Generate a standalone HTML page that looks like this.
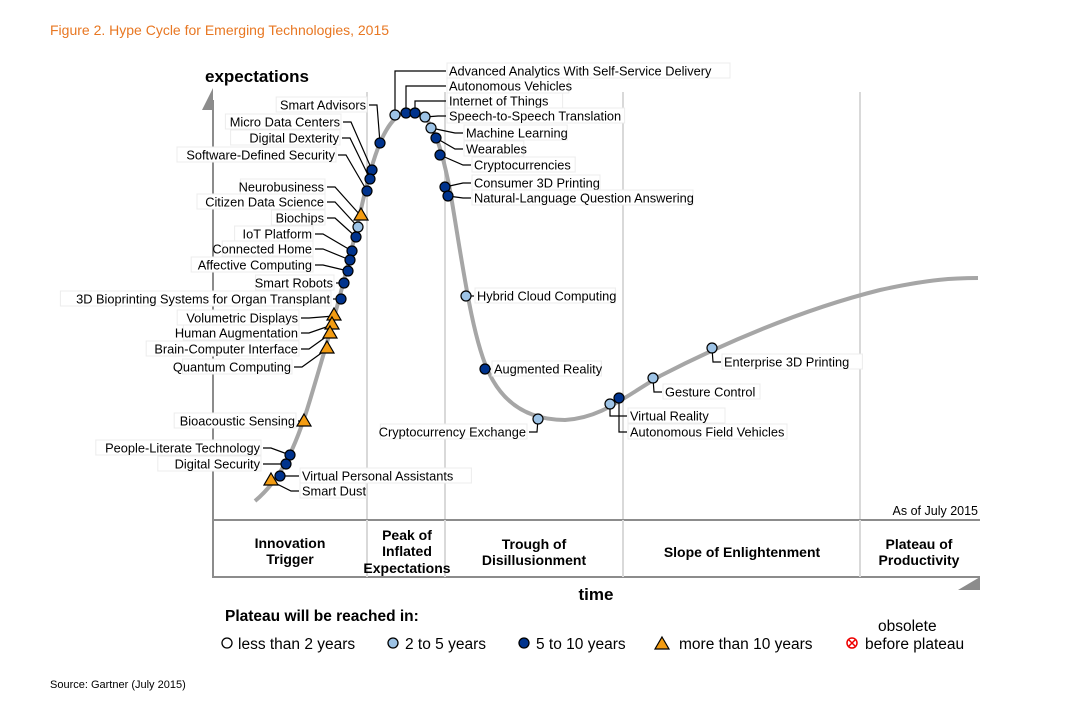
<!DOCTYPE html>
<html><head><meta charset="utf-8"><style>
body{margin:0;background:#fff;width:1072px;height:708px;overflow:hidden;font-family:"Liberation Sans",sans-serif}
svg{display:block}
text{font-family:"Liberation Sans",sans-serif}
</style></head><body>
<svg id="c" width="1072" height="708" viewBox="0 0 1072 708">
<text x="50" y="35" font-size="14" fill="#e87722">Figure 2. Hype Cycle for Emerging Technologies, 2015</text>
<g stroke="#d9d9d9" stroke-width="2">
<line x1="367" y1="92" x2="367" y2="520"/><line x1="445" y1="92" x2="445" y2="520"/>
<line x1="623" y1="92" x2="623" y2="520"/><line x1="860" y1="92" x2="860" y2="520"/>
</g>
<g>
<line x1="213" y1="100" x2="213" y2="578" stroke="#8c8c8c" stroke-width="2"/>
<polygon points="202,110 213,88 213,110" fill="#8c8c8c"/>
</g>
<g stroke="#8c8c8c" stroke-width="2">
<line x1="213" y1="520" x2="980" y2="520"/><line x1="213" y1="577" x2="980" y2="577"/>
<line x1="367" y1="520" x2="367" y2="577" stroke="#d9d9d9"/><line x1="445" y1="520" x2="445" y2="577" stroke="#d9d9d9"/>
<line x1="623" y1="520" x2="623" y2="577" stroke="#d9d9d9"/><line x1="860" y1="520" x2="860" y2="577" stroke="#d9d9d9"/>
</g>
<polygon points="958,590 980,577 980,590" fill="#8c8c8c"/>
<text x="205" y="82" font-size="17" font-weight="bold">expectations</text>
<text x="596" y="600" font-size="17" font-weight="bold" text-anchor="middle">time</text>
<text x="978" y="515" font-size="12.5" text-anchor="end">As of July 2015</text>
<g font-size="14" font-weight="bold" text-anchor="middle">
<text x="290" y="548">Innovation</text><text x="290" y="564">Trigger</text>
<text x="407" y="540">Peak of</text><text x="407" y="556">Inflated</text><text x="407" y="573">Expectations</text>
<text x="534" y="549">Trough of</text><text x="534" y="565">Disillusionment</text>
<text x="742" y="557">Slope of Enlightenment</text>
<text x="919" y="549">Plateau of</text><text x="919" y="565">Productivity</text>
</g>
<path id="curve" fill="none" stroke="#a6a6a6" stroke-width="4"
d="M255,501 C280,480 295,450 310,400 C325,350 340,300 355,235 C370,170 380,120 407,111 C430,108 440,140 450,190 C462,260 472,340 490,375 C505,405 530,420 565,420 C600,418 620,400 660,376 C720,345 800,310 880,290 C930,279 955,278 978,278"/>
<g id="labels"></g>
<g id="marks"></g>
<text x="225" y="621" font-size="15.5" font-weight="bold">Plateau will be reached in:</text>
<g font-size="15.5">
<g><circle cx="227" cy="643" r="5" fill="#fff" stroke="#000" stroke-width="1.3"/><text x="238" y="649">less than 2 years</text></g>
<g><circle cx="393" cy="643" r="5" fill="#9dc3e6" stroke="#000" stroke-width="1.3"/><text x="405" y="649">2 to 5 years</text></g>
<g><circle cx="524" cy="643" r="5" fill="#00338d" stroke="#000" stroke-width="1.3"/><text x="536" y="649">5 to 10 years</text></g>
<g><polygon points="662,637 669,649 655,649" fill="#f39c12" stroke="#000" stroke-width="1.2"/><text x="679" y="649">more than 10 years</text></g>
<g><circle cx="852" cy="643" r="5" fill="#fff" stroke="#e00" stroke-width="1.5"/><path d="M849,640 L855,646 M855,640 L849,646" stroke="#e00" stroke-width="1.5"/><text x="878" y="631">obsolete</text><text x="865" y="649">before plateau</text></g>
</g>
<text x="50" y="688" font-size="11">Source: Gartner (July 2015)</text>
</svg>
<script>
const names=["Smart Advisors","Micro Data Centers","Digital Dexterity","Software-Defined Security","Neurobusiness","Citizen Data Science","Biochips","IoT Platform","Connected Home","Affective Computing","Smart Robots","3D Bioprinting Systems for Organ Transplant","Volumetric Displays","Human Augmentation","Brain-Computer Interface","Quantum Computing","Bioacoustic Sensing","People-Literate Technology","Digital Security","Virtual Personal Assistants","Smart Dust","Advanced Analytics With Self-Service Delivery","Autonomous Vehicles","Internet of Things","Speech-to-Speech Translation","Machine Learning","Wearables","Cryptocurrencies","Consumer 3D Printing","Natural-Language Question Answering","Hybrid Cloud Computing","Augmented Reality","Cryptocurrency Exchange","Virtual Reality","Autonomous Field Vehicles","Gesture Control","Enterprise 3D Printing"];
const cats=[3,3,3,3,4,2,3,3,3,3,3,3,4,4,4,4,4,3,3,3,4,2,3,3,2,2,3,3,3,3,2,3,2,2,3,2,2];
const posX=[380,372,370,367,361,358,356,352,350,348,344,341,334,332,330,327,304,290,286,280,271,395,406,415,425,431,436,440,445,448,466,485,538,610,619,653,712];
const posY=[143,170,179,191,216,227,237,251,260,271,283,299,316,325,334,349,422,455,464,476,481,115,113,113,117,128,138,155,187,196,296,369,419,404,398,378,348];
const labX=[366,340,339,335,324,324,324,312,312,312,333,330,298,298,298,291,295,260,260,302,302,449,449,449,449,466,466,474,474,474,477,494,526,630,630,665,724];
const labY=[105,122,138,155,187,202,218,234,249,265,283,299,318,333,349,367,421,448,464,476,491,71,86,101,116,133,149,165,183,198,296,369,432,416,432,392,362];
const sides=["L","L","L","L","L","L","L","L","L","L","L","L","L","L","L","L","L","L","L","R","R","V","V","V","R","R","R","R","R","R","R","R","L","D","D","R","R"];
const fills={1:"#fff",2:"#9dc3e6",3:"#00338d",4:"#f39c12"};
const NS="http://www.w3.org/2000/svg";
const L=document.getElementById('labels'),M=document.getElementById('marks');
function mk(t,a,p){const e=document.createElementNS(NS,t);for(const k in a)e.setAttribute(k,a[k]);p.appendChild(e);return e;}
names.forEach((n,i)=>{
  const x=posX[i],y=posY[i],lx=labX[i],ly=labY[i],s=sides[i];
  let d;
  if(s==="L"){d=`M${lx+3},${ly} H${lx+11} L${x},${y}`;}
  else if(s==="R"){d=`M${lx-3},${ly} H${lx-11} L${x},${y}`;}
  else {d=`M${x},${y} V${ly} H${lx-3}`;}
  const ln=mk('path',{d:d,fill:'none',stroke:'#000','stroke-width':1.2},L);
  
  
  const w=n.length*6.2+4;
  const bx=(s==="L")?lx-w+1:lx-2;
  const bg=mk('rect',{x:bx,y:ly-8,width:w,height:15,fill:'#fff',stroke:'#ececec','stroke-width':1},L);
  
  
  const t=mk('text',{x:lx,y:ly+4.5,'font-size':12.8,'text-anchor':(s==="L")?'end':'start'},L);
  t.textContent=n;
  
  
  let m;
  if(cats[i]===4){m=mk('polygon',{points:`${x},${y-8} ${x+7},${y+4} ${x-7},${y+4}`,fill:fills[4],stroke:'#000','stroke-width':1.2},M);}
  else{m=mk('circle',{cx:x,cy:y,r:5,fill:fills[cats[i]],stroke:'#000','stroke-width':1.2},M);}
  
  
});
</script>
</body></html>
